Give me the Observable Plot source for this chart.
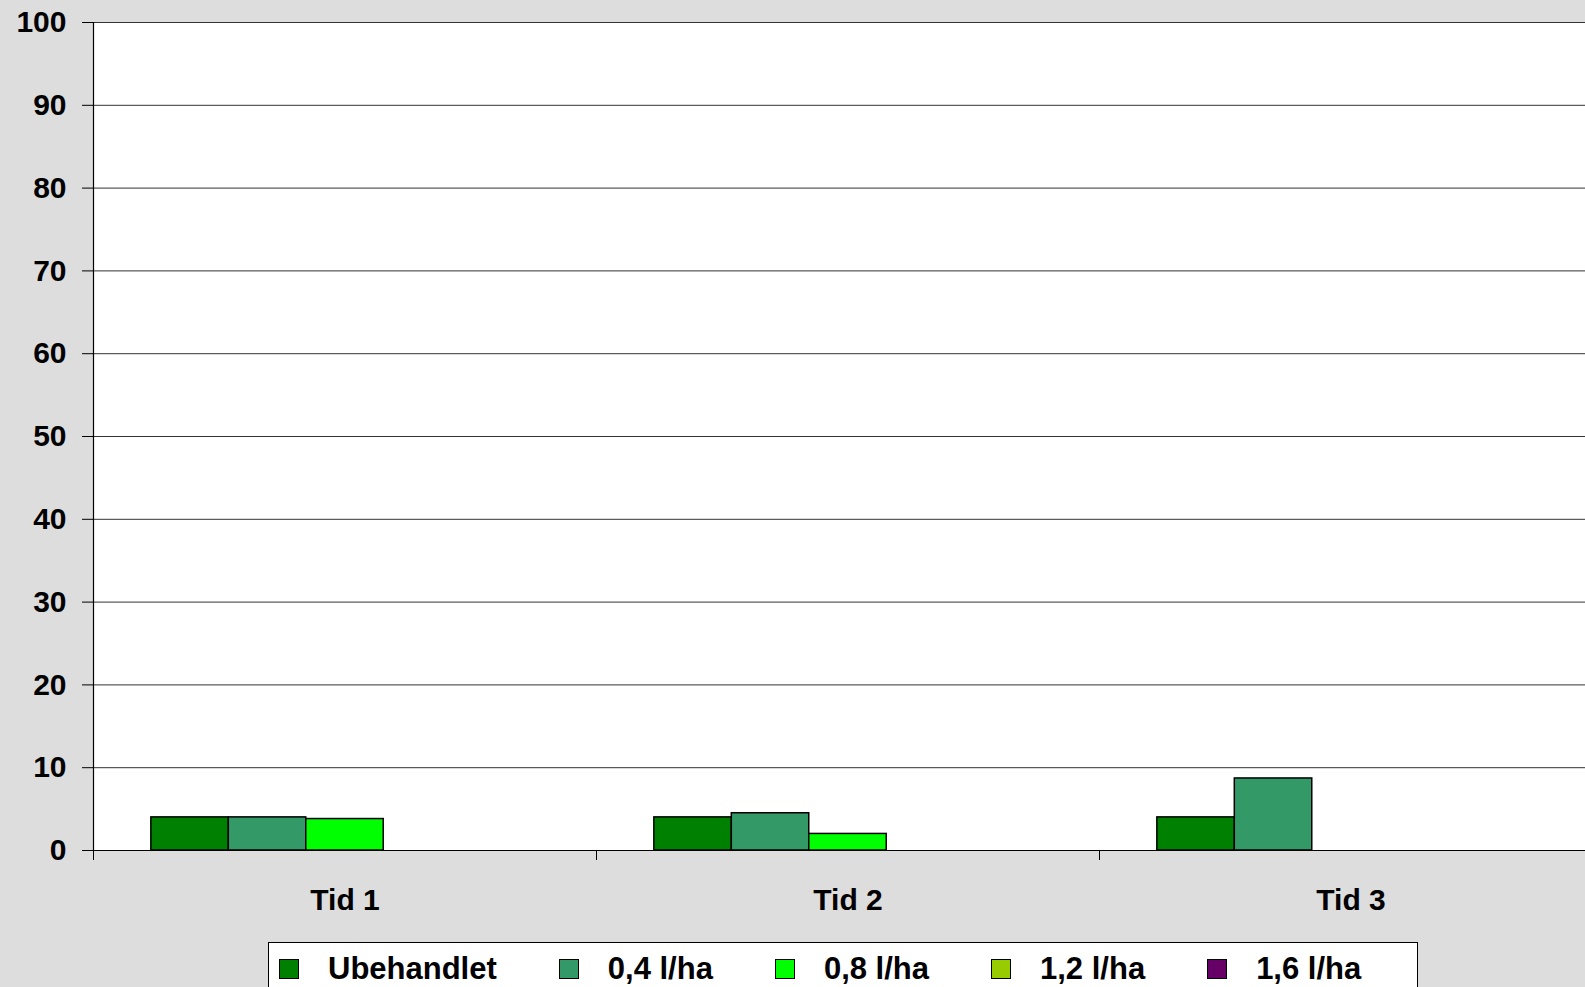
<!DOCTYPE html>
<html>
<head>
<meta charset="utf-8">
<script src="https://cdn.jsdelivr.net/npm/d3@7"></script>
<script src="https://cdn.jsdelivr.net/npm/@observablehq/plot@0.6"></script>
<style>
  html, body { margin: 0; padding: 0; overflow: hidden; background: #dddddd; width: 1585px; height: 987px; }
  #chart { width: 1602px; }
  #chart svg { display: block; max-width: none !important; }
  #legend {
    position: absolute; left: 268px; top: 942px; width: 1150px; height: 60px;
    background: #ffffff; border: 1px solid #000; box-sizing: border-box;
    display: flex; align-items: flex-start; padding-left: 10px; padding-top: 9px;
    font-family: "Liberation Sans", Arial, sans-serif; font-weight: bold; font-size: 31px; color: #000;
    white-space: nowrap;
  }
  .item { display: flex; align-items: center; margin-right: 62px; line-height: 34px; flex: none; }
  .sw { width: 18px; height: 18px; border: 1px solid #000; margin-right: 29px; flex: none; }
</style>
</head>
<body>
<div id="chart"></div>
<div id="legend"></div>
<script>
const categories = ["Tid 1", "Tid 2", "Tid 3"];
const series = ["Ubehandlet", "0,4 l/ha", "0,8 l/ha", "1,2 l/ha", "1,6 l/ha"];
const colors = ["#008000", "#339966", "#00ff00", "#99cc00", "#660066"];
const ubehandlet = [4.0, 4.0, 4.0];
const dose04 = [4.0, 4.5, 8.7];
const dose08 = [3.8, 2.0, 0];
const dose12 = [0, 0, 0];
const dose16 = [0, 0, 0];
const yTicks = [0, 10, 20, 30, 40, 50, 60, 70, 80, 90, 100];

const seriesValues = [ubehandlet, dose04, dose08, dose12, dose16];
const groupPad = 0.115, barW = 0.154;
const data = [];
categories.forEach((c, ci) => {
  series.forEach((s, si) => {
    const v = seriesValues[si][ci];
    if (v > 0) data.push({cat: c, series: s, value: v, x1: ci + groupPad + si * barW, x2: ci + groupPad + (si + 1) * barW});
  });
});

const chart = Plot.plot({
  width: 1602,
  height: 935,
  marginLeft: 93,
  marginRight: 0,
  marginTop: 22,
  marginBottom: 85,
  style: {fontFamily: "'Liberation Sans', Arial, sans-serif", fontSize: "30px", fontWeight: "bold", background: "#dddddd", color: "#000", maxWidth: "none"},
  x: {domain: [0, categories.length]},
  y: {domain: [0, 100]},
  color: {domain: series, range: colors},
  marks: [
    Plot.frame({fill: "white", stroke: null}),
    Plot.ruleY(yTicks, {stroke: "#333", strokeWidth: 1}),
    Plot.rect(data, {x1: "x1", x2: "x2", y1: 0, y2: "value", fill: "series", stroke: "#000", strokeWidth: 1.5}),
    Plot.ruleY([0], {stroke: "#000", strokeWidth: 1.2}),
    Plot.ruleX([0], {stroke: "#000", strokeWidth: 1.2}),
    Plot.axisY({ticks: yTicks, tickSize: 11, tickPadding: 16, label: null, stroke: "#000", fill: "#000"}),
    Plot.axisX({ticks: d3.range(categories.length + 1), tickSize: 10, tickFormat: () => "", label: null, stroke: "#000"}),
    Plot.text(categories, {x: (d, i) => i + 0.5, y: 0, text: d => d, dy: 50, fill: "#000", fontSize: 30, fontWeight: "bold"})
  ]
});
document.getElementById("chart").appendChild(chart);

const legend = document.getElementById("legend");
series.forEach((s, i) => {
  const item = document.createElement("div");
  item.className = "item";
  const sw = document.createElement("div");
  sw.className = "sw";
  sw.style.background = colors[i];
  const t = document.createElement("span");
  t.textContent = s;
  item.appendChild(sw);
  item.appendChild(t);
  legend.appendChild(item);
});
</script>
</body>
</html>
